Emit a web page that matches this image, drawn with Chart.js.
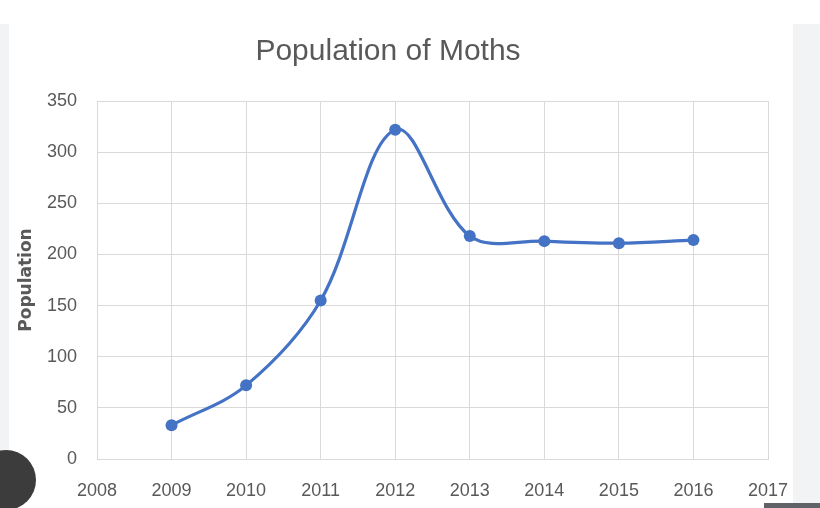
<!DOCTYPE html>
<html>
<head>
<meta charset="utf-8">
<title>Population of Moths</title>
<script src="https://cdn.jsdelivr.net/npm/chart.js@4.4.1/dist/chart.umd.min.js"></script>
<style>
  html, body { margin: 0; padding: 0; background: #ffffff; }
  #wrap { position: relative; width: 820px; height: 508px; overflow: hidden; }
  .side { position: absolute; top: 24px; height: 484px; background: #f1f3f4; }
  #left { left: 0; width: 9px; }
  #right { left: 793px; width: 27px; }
  #lens { position: absolute; left: -24px; top: 450px; width: 60px; height: 60px; border-radius: 50%; background: #3c3c3c; }
  #bar { position: absolute; left: 764px; top: 503px; width: 56px; height: 5px; background: #5f6368; }
  canvas { position: absolute; left: 0; top: 0; }
</style>
</head>
<body>
<div id="wrap">
  <div class="side" id="left"></div>
  <div class="side" id="right"></div>
  <canvas id="mothChart" width="820" height="508"></canvas>
  <div id="lens"></div>
  <div id="bar"></div>
</div>
<script>
'use strict';

// DATA
var years = [2009, 2010, 2011, 2012, 2013, 2014, 2015, 2016];
var population = [33, 72, 155, 322, 218, 213, 211, 214];
var xTicks = [2008, 2009, 2010, 2011, 2012, 2013, 2014, 2015, 2016, 2017];
var yTicks = [0, 50, 100, 150, 200, 250, 300, 350];

var chartTitle = 'Population of Moths';
var yTitle = 'Population';

// BUILD POINTS FROM THE ARRAYS
var points = [];
for (var i = 0; i < years.length; i++) {
  points.push({ x: years[i], y: population[i] });
}

var gray = '#595959';
var gridColor = '#d9d9d9';
var blue = '#4472C4';

var ctx = document.getElementById('mothChart');
var mothChart = new Chart(ctx, {
  type: 'line',
  data: {
    datasets: [{
      label: yTitle,
      data: points,
      borderColor: blue,
      backgroundColor: blue,
      borderWidth: 3.2,
      pointRadius: 6,
      pointBorderWidth: 0,
      pointBackgroundColor: blue,
      tension: 0.35,
      fill: false
    }]
  },
  options: {
    responsive: false,
    animation: false,
    layout: { padding: { left: 8, right: 52, top: 0, bottom: 0 } },
    plugins: {
      legend: { display: false },
      tooltip: { enabled: false },
      title: {
        display: true,
        text: chartTitle,
        color: gray,
        font: { family: 'Liberation Sans', size: 30, weight: 'normal' },
        padding: { top: 34, bottom: 31 }
      }
    },
    scales: {
      x: {
        type: 'linear',
        min: xTicks[0],
        max: xTicks[xTicks.length - 1],
        afterBuildTicks: function (scale) {
          scale.ticks = xTicks.map(function (v) { return { value: v }; });
        },
        afterFit: function (scale) { scale.height = 49; },
        grid: { color: gridColor, lineWidth: 1, drawTicks: false },
        border: { color: gridColor, width: 1 },
        ticks: {
          color: gray,
          padding: 21,
          maxRotation: 0,
          autoSkip: false,
          font: { family: 'Liberation Sans', size: 18 },
          callback: function (v) { return String(v); }
        }
      },
      y: {
        min: yTicks[0],
        max: yTicks[yTicks.length - 1],
        afterBuildTicks: function (scale) {
          scale.ticks = yTicks.map(function (v) { return { value: v }; });
        },
        afterFit: function (scale) { scale.width = 89; },
        grid: { color: gridColor, lineWidth: 1, drawTicks: false },
        border: { color: gridColor, width: 1 },
        ticks: {
          color: gray,
          padding: 20,
          font: { family: 'Liberation Sans', size: 18 }
        },
        title: {
          display: true,
          text: yTitle,
          color: gray,
          font: { family: 'DejaVu Sans', size: 17, weight: 'bold' },
          padding: { top: 8, bottom: 0 }
        }
      }
    }
  }
});
</script>
</body>
</html>
